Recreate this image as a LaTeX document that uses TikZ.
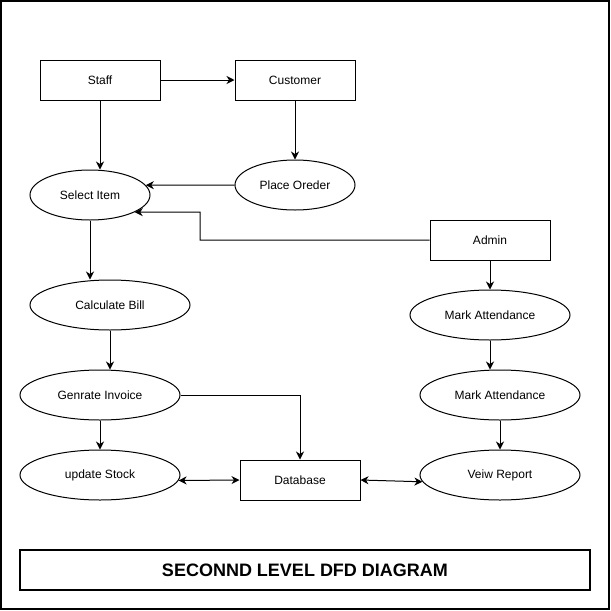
\documentclass[tikz,border=0pt]{standalone}
\usepackage{fontspec}
\setmainfont{Liberation Sans}
\usetikzlibrary{shapes.geometric,arrows.meta}
\begin{document}
\begin{tikzpicture}[x=1pt,y=-1pt,
  every node/.style={font=\fontsize{12}{14}\selectfont},
  entity/.style={draw,line width=1pt,rectangle,minimum width=120pt,minimum height=40pt,inner sep=0pt},
  proc/.style={draw,line width=1pt,ellipse,minimum height=50pt,inner sep=0pt},
  arr/.style={line width=1pt,-{Stealth[length=8pt,width=8pt,inset=2.5pt]}},
  darr/.style={line width=1pt,{Stealth[length=8pt,width=8pt,inset=2.5pt]}-{Stealth[length=8pt,width=8pt,inset=2.5pt]}},
  frame/.style={draw,line width=1.4pt}
]
\useasboundingbox (0,0) rectangle (611,611);
\draw[frame] (1,1) rectangle (609,609);

\node[entity] (staff) at (100,80) {Staff};
\node[entity] (cust) at (295,80) {Customer};
\node[entity] (admin) at (490,240) {Admin};
\node[entity] (db) at (300,480) {Database};

\node[proc,minimum width=120pt] (sel) at (90,195) {Select Item};
\node[proc,minimum width=120pt] (po) at (295,185) {Place Oreder};
\node[proc,minimum width=160pt] (calc) at (110,305) {Calculate Bill};
\node[proc,minimum width=160pt] (gen) at (100,395) {Genrate Invoice};
\node[proc,minimum width=160pt] (us) at (100,475) {update Stock};
\node[proc,minimum width=160pt] (m1) at (490,315) {Mark Attendance};
\node[proc,minimum width=160pt] (m2) at (500,395) {Mark Attendance};
\node[proc,minimum width=160pt] (vr) at (500,475) {Veiw Report};

\node[frame,rectangle,minimum width=570pt,minimum height=40pt,inner sep=0pt,
  font=\fontsize{18}{20}\selectfont\bfseries] (title) at (305,570) {SECONND LEVEL DFD DIAGRAM};

\coordinate (bend) at (200,212);

\draw[arr] (staff.east) -- (cust.west);
\draw[arr] (staff.south) -- (staff.south |- sel.north);
\draw[arr] (cust.south) -- (po.north);
\draw[arr] (po.west) -- (sel.10);
\draw[arr] (admin.west) -| (bend) -- (sel.-21);
\draw[arr] (sel.south) -- (sel.south |- calc.north);
\draw[arr] (calc.south) -- (calc.south |- gen.north);
\draw[arr] (gen.south) -- (us.north);
\draw[arr] (gen.east) -| (db.north);
\draw[darr] (us.-4) -- (db.west);
\draw[darr] (db.east) -- (vr.185);
\draw[arr] (admin.south) -- (m1.north);
\draw[arr] (m1.south) -- (m1.south |- m2.north);
\draw[arr] (m2.south) -- (vr.north);
\end{tikzpicture}
\end{document}
